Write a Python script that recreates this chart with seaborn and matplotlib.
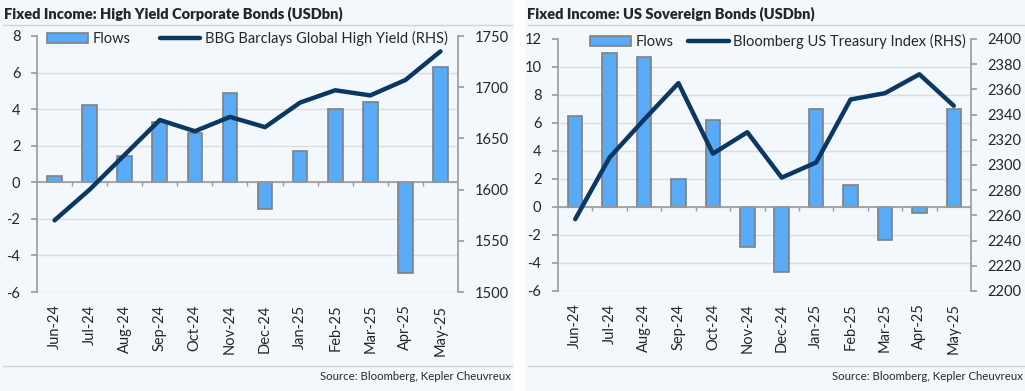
import numpy as np
import pandas as pd
import matplotlib
matplotlib.use("Agg")
import matplotlib.pyplot as plt
import seaborn as sns
from matplotlib.patches import Rectangle, Patch
from matplotlib.lines import Line2D

# DATA
months = ["Jun-24", "Jul-24", "Aug-24", "Sep-24", "Oct-24", "Nov-24",
          "Dec-24", "Jan-25", "Feb-25", "Mar-25", "Apr-25", "May-25"]

hy_flows = [0.35, 4.2, 1.45, 3.3, 2.7, 4.9, -1.45, 1.7, 4.0, 4.4, -4.95, 6.3]
hy_index = [1570, 1600, 1634, 1668, 1657, 1671, 1661, 1685, 1697, 1692, 1707, 1735]

ust_flows = [6.5, 11.0, 10.75, 2.0, 6.2, -2.85, -4.65, 7.0, 1.6, -2.35, -0.4, 7.0]
ust_index = [2257, 2306, 2336, 2365, 2309, 2326, 2290, 2302, 2352, 2357, 2372, 2347]

# STYLE
BG = "#f3f8fd"
BAR = "#5aabf7"
BAR_EDGE = "#808080"
LINE = "#0b3862"
SPINE = "#9a9a9a"
GRID = "#dcdcdc"

sns.set_style("white")
plt.rcParams["font.family"] = ["Lato", "DejaVu Sans"]
plt.rcParams["axes.unicode_minus"] = False

fig = plt.figure(figsize=(10.25, 3.91), dpi=100, facecolor="white")

# panel backgrounds
for x0, x1 in [(0, 512), (525, 1025)]:
    fig.add_artist(Rectangle((x0 / 1025, 0), (x1 - x0) / 1025, 1,
                             transform=fig.transFigure, color=BG, zorder=-5))
    fig.add_artist(Line2D([x0 / 1025 + 0.003, x1 / 1025], [1 - 25 / 391] * 2,
                          transform=fig.transFigure, color="#d0d4d8", lw=1, zorder=-4))
    fig.add_artist(Line2D([x0 / 1025 + 0.003, x1 / 1025], [1 - 366 / 391] * 2,
                          transform=fig.transFigure, color="#d0d4d8", lw=1, zorder=-4))


def draw_panel(rect, title, title_x, source_x, flows, index, line_label,
               ylim, yticks, y2lim, y2ticks, leg_x, col_space):
    ax = fig.add_axes(rect)
    ax.set_facecolor("none")
    df = pd.DataFrame({"month": months, "flows": flows})
    sns.barplot(data=df, x="month", y="flows", ax=ax, color=BAR,
                edgecolor=BAR_EDGE, linewidth=1.2, width=0.42, saturation=1)
    ax.set_ylim(*ylim)
    ax.set_yticks(yticks)
    ax.set_xlim(-0.5, len(months) - 0.5)
    ax.set_xlabel("")
    ax.set_ylabel("")
    ax.yaxis.grid(True, color=GRID, lw=1)
    ax.set_axisbelow(True)
    ax.get_ygridlines()[-1].set_visible(False)
    ax.axhline(0, color=SPINE, lw=1.2, zorder=1.5)
    ax.vlines(np.arange(len(months) - 1) + 0.5, 0, -(ylim[1] - ylim[0]) * 0.015,
              color=SPINE, lw=1, zorder=1.5)
    for s in ["top", "bottom", "right"]:
        ax.spines[s].set_visible(False)
    ax.spines["left"].set_color(SPINE)
    ax.spines["left"].set_linewidth(1.2)
    ax.tick_params(axis="y", length=4, color=SPINE, width=1.2, labelsize=10.5, pad=8)
    ax.tick_params(axis="x", length=0, labelsize=10.5, pad=9)
    ax.set_xticks(range(len(months)))
    ax.set_xticklabels(months, rotation=90)

    ax2 = ax.twinx()
    sns.lineplot(x=np.arange(len(months)), y=index, ax=ax2, color=LINE, lw=3.2,
                 sort=False)
    ax2.set_ylim(*y2lim)
    ax2.set_yticks(y2ticks)
    ax2.set_ylabel("")
    for s in ["top", "bottom", "left"]:
        ax2.spines[s].set_visible(False)
    ax2.spines["right"].set_color(SPINE)
    ax2.spines["right"].set_linewidth(1.2)
    ax2.tick_params(axis="y", length=4, color=SPINE, width=1.2, labelsize=10.5, pad=8)

    handles = [Patch(facecolor=BAR, edgecolor=BAR_EDGE, lw=1.2),
               Line2D([], [], color=LINE, lw=3.2)]
    ax2.legend(handles, ["Flows", line_label], loc="upper center",
               bbox_to_anchor=(leg_x, 1.06), ncol=2, frameon=False,
               fontsize=10.5, handlelength=2.8, handletextpad=0.3,
               columnspacing=col_space, borderpad=0.2)

    fig.text(title_x / 1025, 1 - 14 / 391, title, fontsize=10.5,
             fontweight="heavy", va="center", ha="left")
    fig.text(source_x / 1025, 1 - 377 / 391, "Source: Bloomberg, Kepler Cheuvreux",
             fontsize=8.2, va="center", ha="right")


draw_panel([37 / 1025, 1 - 292 / 391, 421 / 1025, 256 / 391],
           "Fixed Income: High Yield Corporate Bonds (USDbn)", 4, 511,
           hy_flows, hy_index, "BBG Barclays Global High Yield (RHS)",
           (-6, 8), range(-6, 9, 2), (1500, 1750), range(1500, 1751, 50),
           0.5, 2.0)

draw_panel([558 / 1025, 1 - 291 / 391, 413 / 1025, 252 / 391],
           "Fixed Income: US Sovereign Bonds (USDbn)", 527, 1023,
           ust_flows, ust_index, "Bloomberg US Treasury Index (RHS)",
           (-6, 12), range(-6, 13, 2), (2200, 2400), range(2200, 2401, 20),
           0.533, 1.0)

fig.savefig("out.png", dpi=100, facecolor="white")
